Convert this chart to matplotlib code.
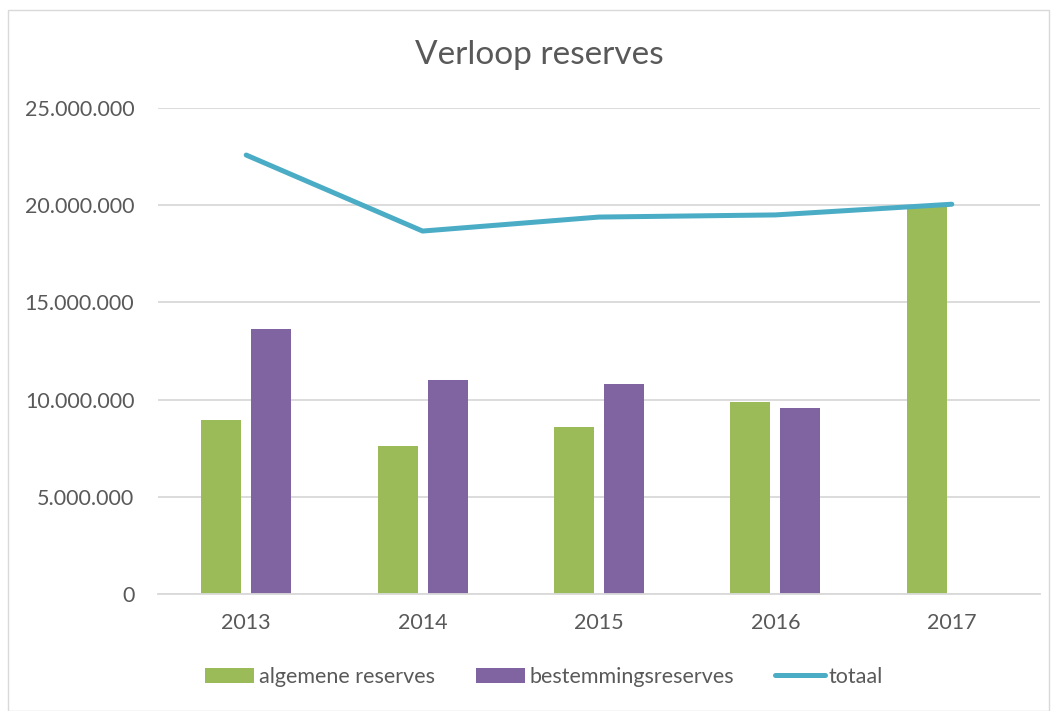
import matplotlib
matplotlib.use("Agg")
import matplotlib.pyplot as plt
import numpy as np
from matplotlib.patches import Rectangle
from matplotlib.ticker import FuncFormatter

years = ["2013", "2014", "2015", "2016", "2017"]
algemene = [8950000, 7610000, 8590000, 9880000, 20010000]
bestemming = [13630000, 11010000, 10800000, 9570000, 0]
totaal = [22580000, 18670000, 19390000, 19500000, 20050000]

plt.rcParams['font.family'] = ['Lato', 'DejaVu Sans']
txt = '#595959'
green = '#9BBB59'
purple = '#8064A2'
blue = '#4BACC6'

W, H = 1058, 711
fig = plt.figure(figsize=(W/100, H/100), dpi=100)
fig.patches.append(Rectangle((8/W, 0.5/H), (1049-8)/W, (H-10-0.5)/H, transform=fig.transFigure,
                             fill=False, edgecolor='#D9D9D9', linewidth=1))

ax = fig.add_axes([158/W, 1-594/H, (1040-158)/W, (594-108)/H])
x = np.arange(len(years))
bw = 0.2265
off = 0.1415
b1 = ax.bar(x - off, algemene, bw, color=green, label='algemene reserves', zorder=2)
b2 = ax.bar(x + off, bestemming, bw, color=purple, label='bestemmingsreserves', zorder=2)
l1, = ax.plot(x, totaal, color=blue, linewidth=3.6, solid_capstyle='round', solid_joinstyle='round',
              label='totaal', zorder=3)

ax.set_xlim(-0.5, len(years) - 0.5)
ax.set_ylim(0, 25000000)
ax.set_yticks(np.arange(0, 25000001, 5000000))
ax.yaxis.set_major_formatter(FuncFormatter(lambda v, p: f"{int(v):,}".replace(",", ".")))
ax.set_xticks(x)
ax.set_xticklabels(years)
ax.grid(axis='y', color='#D9D9D9', linewidth=1.3, zorder=0)
ax.set_axisbelow(True)
for s in ['top', 'right', 'left']:
    ax.spines[s].set_visible(False)
ax.spines['bottom'].set_color('#D9D9D9')
ax.spines['bottom'].set_linewidth(1.3)
ax.tick_params(axis='both', length=0, colors=txt, labelsize=15.5)
ax.tick_params(axis='x', pad=14)
ax.tick_params(axis='y', pad=17)

fig.text(539/W, 1-55/H, 'Verloop reserves', ha='center', va='center', fontsize=24, color=txt)

leg = fig.legend([b1, b2, l1], ['algemene reserves', 'bestemmingsreserves', 'totaal'],
                 loc='center', bbox_to_anchor=(544/W, 1-677/H), ncol=3, frameon=False,
                 fontsize=15.5, handlelength=2.3, handleheight=0.7, handletextpad=0.2,
                 columnspacing=1.9, labelcolor=txt)

fig.savefig('out.png', dpi=100)
